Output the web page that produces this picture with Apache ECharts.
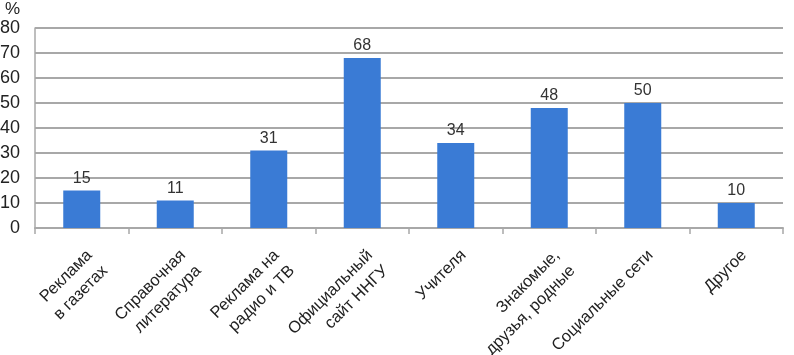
<!DOCTYPE html>
<html><head><meta charset="utf-8">
<script src="https://cdn.jsdelivr.net/npm/echarts@6/dist/echarts.min.js"></script>
<style>html,body{margin:0;padding:0;background:#fff}#c{width:794px;height:355px}</style>
</head><body><div id="c"></div>
<script>
const categories = [
  ['Реклама', 'в газетах'],
  ['Справочная', 'литература'],
  ['Реклама на', 'радио и ТВ'],
  ['Официальный', 'сайт ННГУ'],
  ['Учителя'],
  ['Знакомые,', 'друзья, родные'],
  ['Социальные сети'],
  ['Другое']
];
const values = [15, 11, 31, 68, 34, 48, 50, 10];
const yTicks = [0, 10, 20, 30, 40, 50, 60, 70, 80];
const yUnit = '%';

const FONT = 'Liberation Sans, Arial, sans-serif';
const chart = echarts.init(document.getElementById('c'), null, {renderer: 'canvas'});
chart.setOption({
  animation: false,
  backgroundColor: '#fff',
  textStyle: {fontFamily: FONT},
  graphic: [{
    type: 'text', left: 5, top: 1,
    style: {text: yUnit, fontSize: 17, fill: '#222', fontFamily: FONT}
  }],
  grid: {left: 35, right: 11, top: 28, bottom: 127, containLabel: false, outerBoundsMode: 'none'},
  xAxis: {
    type: 'category',
    data: categories.map(c => c.join('\n')),
    axisLine: {show: true, lineStyle: {color: '#a8a8a8', width: 2}},
    axisTick: {show: true, alignWithLabel: false, length: 6, lineStyle: {color: '#a8a8a8', width: 1.5}},
    axisLabel: {
      interval: 0, rotate: 45, margin: 17, color: '#222', fontSize: 16.5,
      lineHeight: 22, align: 'right', verticalAlign: 'top', fontFamily: FONT
    }
  },
  yAxis: {
    type: 'value', min: yTicks[0], max: yTicks[yTicks.length - 1], interval: 10,
    axisLine: {show: true, lineStyle: {color: '#a8a8a8', width: 1.5}},
    axisTick: {show: false},
    axisLabel: {color: '#222', fontSize: 18, margin: 15},
    splitLine: {show: true, lineStyle: {color: '#a8a8a8', width: 2}}
  },
  series: [{
    type: 'bar', data: values, barWidth: 37,
    itemStyle: {color: '#3a7bd5'},
    label: {show: true, position: 'top', distance: 4, color: '#333', fontSize: 16}
  }]
});
</script></body></html>
